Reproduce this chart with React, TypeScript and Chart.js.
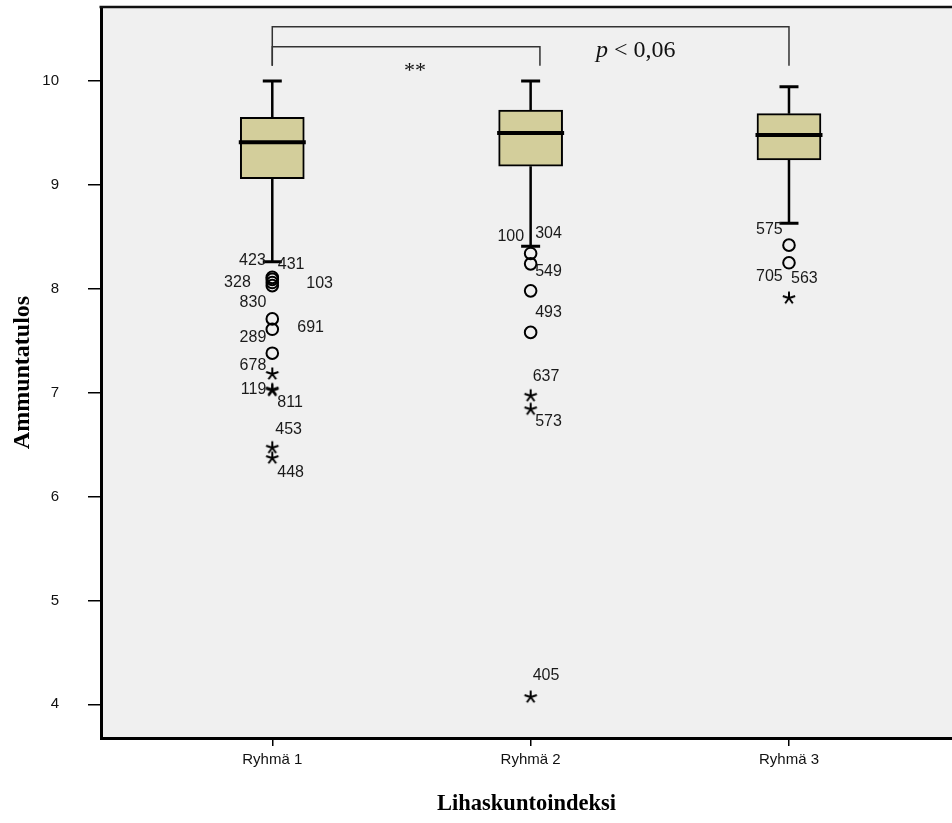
import React, { useEffect, useRef } from "react";
import { Chart, registerables } from "chart.js";

Chart.register(...registerables);

// Groups and axis ticks
const GROUPS = ["Ryhmä 1", "Ryhmä 2", "Ryhmä 3"];
const Y_TICKS = [4, 5, 6, 7, 8, 9, 10];

// Box-plot statistics per group
const WHISKER_LOW = [8.26, 8.41, 8.63];
const Q1 = [9.06, 9.18, 9.24];
const MEDIAN = [9.41, 9.5, 9.48];
const Q3 = [9.65, 9.72, 9.685];
const WHISKER_HIGH = [10.0, 10.0, 9.945];

// Outlying cases: group index, value, case number, kind ("o" outlier, "*" extreme)
const OUT_GROUP = [0, 0, 0, 0, 0, 0, 0, 0, 0, 0, 0, 0, 1, 1, 1, 1, 1, 1, 1, 2, 2, 2];
const OUT_VALUE = [
  8.11, 8.09, 8.06, 8.03, 7.71, 7.61, 7.38, 7.18, 7.03, 7.02, 6.47, 6.37,
  8.34, 8.24, 7.98, 7.58, 6.97, 6.84, 4.07,
  8.42, 8.25, 7.91,
];
const OUT_ID = [
  "423", "431", "328", "103", "830", "691", "289", "678", "119", "811", "453", "448",
  "304", "100", "549", "493", "637", "573", "405",
  "575", "705", "563",
];
const OUT_KIND = [
  "o", "o", "o", "o", "o", "o", "o", "*", "*", "*", "*", "*",
  "o", "o", "o", "o", "*", "*", "*",
  "o", "o", "*",
];

// Case-number label placement relative to its marker, in pixels [dx, dy]
// (negative dx: text ends left of the marker; positive: text starts right of it)
const LABEL_OFFSET: [number, number][] = [
  [-6.5, -16.5], [5.5, -15], [-21.5, 0], [34, -2], [-6, -16], [25, -2], [-6, -16],
  [-6, -8], [-6, 0], [5, 12], [3, -18], [5, 14],
  [4.5, -20], [-6.5, -27], [4.5, -19], [4.5, -20], [2, -19], [4.5, 12.5], [2, -21],
  [-6.3, -16], [-6.3, 14], [2, -20],
];

// Significance brackets: from group, to position, top level, bottom level (axis units)
const BRACKETS = [
  { from: 1, to: 3, top: 10.523, bottom: 10.147 },
  { from: 1, to: 2.036, top: 10.33, bottom: 10.147 },
];

const SANS = '"Liberation Sans", Arial, sans-serif';
const SERIF = '"Liberation Serif", "Times New Roman", serif';
const BOX_FILL = "#D3CE9B";
const PLOT_BG = "#F0F0F0";

function makeStar(): HTMLCanvasElement {
  const c = document.createElement("canvas");
  c.width = 16;
  c.height = 16;
  const g = c.getContext("2d")!;
  g.strokeStyle = "#000";
  g.lineWidth = 2;
  g.beginPath();
  for (let k = 0; k < 5; k++) {
    const a = -Math.PI / 2 + (k * 2 * Math.PI) / 5;
    g.moveTo(8, 8);
    g.lineTo(8 + Math.cos(a) * 6.5, 8 + Math.sin(a) * 6.5);
  }
  g.stroke();
  return c;
}

const zeroPadding = (s: any) => {
  s.paddingTop = 0;
  s.paddingBottom = 0;
  s.paddingLeft = 0;
  s.paddingRight = 0;
};

const backgroundPlugin = {
  id: "plotBackground",
  beforeDraw(chart: any) {
    const { ctx, chartArea } = chart;
    ctx.save();
    ctx.fillStyle = PLOT_BG;
    ctx.fillRect(chartArea.left, chartArea.top, chartArea.right - chartArea.left, chartArea.bottom - chartArea.top);
    ctx.restore();
  },
  afterDraw(chart: any) {
    const { ctx, chartArea } = chart;
    ctx.save();
    ctx.strokeStyle = "#111";
    ctx.lineWidth = 2.5;
    ctx.beginPath();
    ctx.moveTo(chartArea.left - 1.5, chartArea.top);
    ctx.lineTo(chartArea.right, chartArea.top);
    ctx.stroke();
    ctx.restore();
  },
};

const boxPlugin = {
  id: "whiskersAndMedians",
  afterDatasetsDraw(chart: any) {
    const { ctx } = chart;
    const x = chart.scales.x;
    const y = chart.scales.y;
    ctx.save();
    ctx.strokeStyle = "#000";
    GROUPS.forEach((_, i) => {
      const cx = x.getPixelForValue(i + 1);
      const half = 32;
      // whiskers
      ctx.lineWidth = 2.5;
      ctx.beginPath();
      ctx.moveTo(cx, y.getPixelForValue(Q3[i]));
      ctx.lineTo(cx, y.getPixelForValue(WHISKER_HIGH[i]));
      ctx.moveTo(cx, y.getPixelForValue(Q1[i]));
      ctx.lineTo(cx, y.getPixelForValue(WHISKER_LOW[i]));
      ctx.stroke();
      // caps
      ctx.lineWidth = 3;
      ctx.beginPath();
      ctx.moveTo(cx - 9.5, y.getPixelForValue(WHISKER_HIGH[i]));
      ctx.lineTo(cx + 9.5, y.getPixelForValue(WHISKER_HIGH[i]));
      ctx.moveTo(cx - 9.5, y.getPixelForValue(WHISKER_LOW[i]));
      ctx.lineTo(cx + 9.5, y.getPixelForValue(WHISKER_LOW[i]));
      ctx.stroke();
      // median
      ctx.lineWidth = 4;
      ctx.beginPath();
      ctx.moveTo(cx - half - 1.5, y.getPixelForValue(MEDIAN[i]));
      ctx.lineTo(cx + half + 1.5, y.getPixelForValue(MEDIAN[i]));
      ctx.stroke();
    });
    // case labels
    ctx.font = `16px ${SANS}`;
    ctx.fillStyle = "#1a1a1a";
    ctx.textBaseline = "middle";
    OUT_ID.forEach((id, i) => {
      const px = x.getPixelForValue(OUT_GROUP[i] + 1);
      const py = y.getPixelForValue(OUT_VALUE[i]);
      const [dx, dy] = LABEL_OFFSET[i];
      ctx.textAlign = dx < 0 ? "right" : "left";
      ctx.fillText(id, px + dx, py + dy);
    });
    ctx.restore();
  },
};

const annotationPlugin = {
  id: "significance",
  afterDraw(chart: any) {
    const { ctx } = chart;
    const x = chart.scales.x;
    const y = chart.scales.y;
    ctx.save();
    ctx.strokeStyle = "#333";
    ctx.lineWidth = 1.5;
    BRACKETS.forEach((b) => {
      const x1 = x.getPixelForValue(b.from);
      const x2 = x.getPixelForValue(b.to);
      const yt = y.getPixelForValue(b.top);
      const yb = y.getPixelForValue(b.bottom);
      ctx.beginPath();
      ctx.moveTo(x1, yb);
      ctx.lineTo(x1, yt);
      ctx.lineTo(x2, yt);
      ctx.lineTo(x2, yb);
      ctx.stroke();
    });
    ctx.fillStyle = "#111";
    ctx.textBaseline = "alphabetic";
    ctx.textAlign = "center";
    ctx.font = `22px ${SERIF}`;
    ctx.fillText("**", x.getPixelForValue(1.552), y.getPixelForValue(10.04));
    ctx.textAlign = "left";
    const px = x.getPixelForValue(2.253);
    const py = y.getPixelForValue(10.231);
    ctx.font = `italic 24px ${SERIF}`;
    ctx.fillText("p", px, py);
    const w = ctx.measureText("p").width;
    ctx.font = `24px ${SERIF}`;
    ctx.fillText(" < 0,06", px + w, py);
    ctx.restore();
  },
};

export default function App() {
  const ref = useRef<HTMLCanvasElement>(null);

  useEffect(() => {
    const canvas = ref.current;
    if (!canvas) return;
    const star = makeStar();

    const circles = OUT_VALUE.map((v, i) => ({ x: OUT_GROUP[i] + 1, y: v, k: OUT_KIND[i] }))
      .filter((p) => p.k === "o")
      .map((p) => ({ x: p.x, y: p.y }));
    const extremes = OUT_VALUE.map((v, i) => ({ x: OUT_GROUP[i] + 1, y: v, k: OUT_KIND[i] }))
      .filter((p) => p.k === "*")
      .map((p) => ({ x: p.x, y: p.y }));

    const chart = new Chart(canvas, {
      type: "bar",
      data: {
        datasets: [
          {
            type: "bar",
            data: GROUPS.map((_, i) => ({ x: i + 1, y: [Q1[i], Q3[i]] })) as any,
            backgroundColor: BOX_FILL,
            borderColor: "#000",
            borderWidth: 2,
            borderSkipped: false,
            barThickness: 64,
          } as any,
          {
            type: "scatter",
            data: circles,
            pointStyle: "circle",
            pointRadius: 5.8,
            borderWidth: 2,
            borderColor: "#000",
            backgroundColor: "rgba(0,0,0,0)",
          } as any,
          {
            type: "scatter",
            data: extremes,
            pointStyle: star,
            pointRadius: 8,
          } as any,
        ],
      },
      options: {
        animation: false,
        responsive: false,
        events: [],
        layout: { autoPadding: false, padding: { top: 7, left: 0, right: 0, bottom: 0 } },
        plugins: { legend: { display: false }, tooltip: { enabled: false } },
        scales: {
          x: {
            type: "linear",
            offset: false,
            min: 0.337,
            max: 3.631,
            afterBuildTicks: (s: any) => {
              s.ticks = GROUPS.map((_, i) => ({ value: i + 1 }));
            },
            afterFit: (s: any) => {
              s.height = 85;
              zeroPadding(s);
            },
            ticks: {
              callback: (v: any) => GROUPS[Number(v) - 1] ?? "",
              font: { family: SANS, size: 15 },
              color: "#111",
              padding: 5,
              maxRotation: 0,
              autoSkip: false,
            },
            grid: { offset: false, drawOnChartArea: false, drawTicks: true, tickLength: 8, color: "#000", lineWidth: 1.5 },
            border: { display: true, color: "#000", width: 3 },
            title: {
              display: true,
              text: "Lihaskuntoindeksi",
              font: { family: SERIF, size: 22.5, weight: "bold" },
              color: "#000",
              padding: { top: 0, bottom: 5 },
            },
          },
          y: {
            type: "linear",
            min: 3.676,
            max: 10.712,
            afterBuildTicks: (s: any) => {
              s.ticks = Y_TICKS.map((v) => ({ value: v }));
            },
            afterFit: (s: any) => {
              s.width = 101;
              zeroPadding(s);
            },
            ticks: {
              font: { family: SANS, size: 15 },
              color: "#111",
              padding: 29,
            },
            grid: { drawOnChartArea: false, drawTicks: true, tickLength: 13, color: "#000", lineWidth: 1.5 },
            border: { display: true, color: "#000", width: 3 },
            title: {
              display: true,
              text: "Ammuntatulos",
              font: { family: SERIF, size: 24, weight: "bold" },
              color: "#000",
              padding: { top: 8, bottom: 0 },
            },
          },
        },
      } as any,
      plugins: [backgroundPlugin, boxPlugin, annotationPlugin],
    });

    return () => chart.destroy();
  }, []);

  return (
    <div style={{ position: "fixed", left: 0, top: 0, width: 952, height: 823, background: "#fff" }}>
      <canvas ref={ref} width={952} height={823} style={{ display: "block", width: 952, height: 823 }} />
    </div>
  );
}
